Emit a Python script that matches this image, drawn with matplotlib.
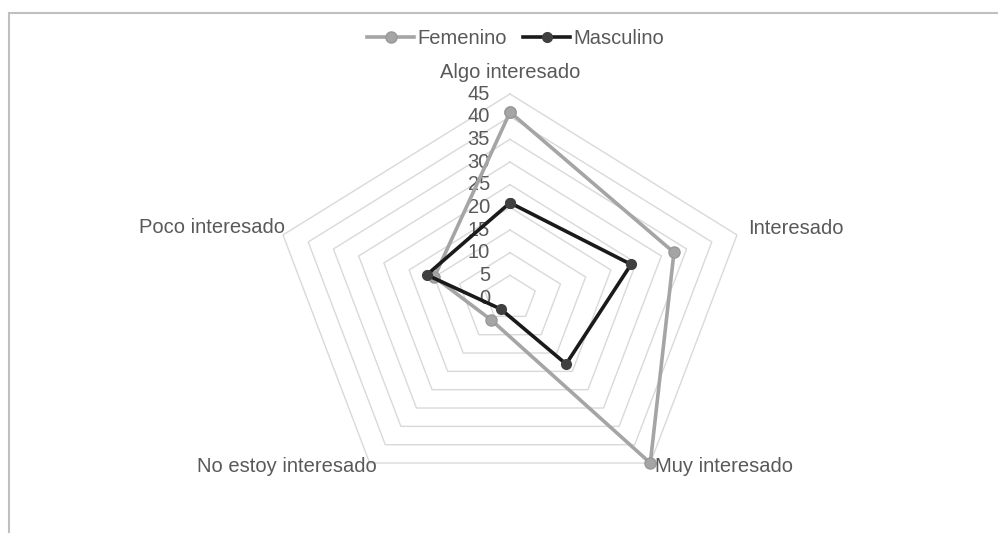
import numpy as np
import matplotlib
matplotlib.use("Agg")
import matplotlib.pyplot as plt
from matplotlib.patches import Rectangle

# ---- data ----
categories = ['Algo interesado', 'Interesado', 'Muy interesado',
              'No estoy interesado', 'Poco interesado']
femenino = [41, 32.5, 45, 6, 15]
masculino = [21, 24, 18, 3, 16.5]
radial_ticks = [0, 5, 10, 15, 20, 25, 30, 35, 40, 45]
series_names = ['Femenino', 'Masculino']

plt.rcParams['font.family'] = ['Liberation Sans', 'DejaVu Sans']
TXT = '#595959'
FS = 14.5

W, H = 998, 533
fig = plt.figure(figsize=(W / 100, H / 100), dpi=100)

# outer frame (partially cropped in the reference)
fig.patches.append(Rectangle((9 / W, -0.1), 1.2, 1.1 - 13 / H,
                             transform=fig.transFigure, fill=False,
                             edgecolor='#c0c0c0', linewidth=1.5))

cx, cy = 510, 298
rx, ry = 238.7, 204
ax = fig.add_axes([(cx - rx) / W, (H - cy - ry) / H, 2 * rx / W, 2 * ry / H],
                  projection='polar')
ax.set_aspect('auto')
ax.set_theta_offset(np.pi / 2)
ax.set_theta_direction(-1)
ax.set_ylim(0, max(radial_ticks))
ax.set_xticks([])
ax.set_yticks([])
ax.grid(False)
ax.spines['polar'].set_visible(False)
ax.patch.set_alpha(0)

n = len(categories)
angles = np.arange(n) * 2 * np.pi / n
ang_c = np.append(angles, angles[0])

# pentagon grid
for lv in radial_ticks[1:]:
    ax.plot(ang_c, [lv] * (n + 1), color='#d9d9d9', lw=1.0, zorder=1,
            clip_on=False)

# series
f_c = femenino + femenino[:1]
m_c = masculino + masculino[:1]
ax.plot(ang_c, f_c, color='#a5a5a5', lw=2.6, marker='o', markersize=8,
        markerfacecolor='#a5a5a5', markeredgecolor='#999999',
        solid_joinstyle='round', label=series_names[0], zorder=3,
        clip_on=False)
ax.plot(ang_c, m_c, color='#1a1a1a', lw=2.6, marker='o', markersize=7,
        markerfacecolor='#404040', markeredgecolor='#404040',
        solid_joinstyle='round', label=series_names[1], zorder=4,
        clip_on=False)

# radial tick labels
for t in radial_ticks:
    ax.annotate(str(t), xy=(0, t), xytext=(-20, 0), textcoords='offset pixels',
                ha='right', va='center', fontsize=FS, color=TXT, zorder=2,
                annotation_clip=False)

# category labels
rmax = max(radial_ticks)
offsets = [((0, 22), 'center'), ((11, 6), 'left'), ((5, -3), 'left'),
           ((7, -3), 'right'), ((2, 7), 'right')]
for a, lab, (off, ha) in zip(angles, categories, offsets):
    ax.annotate(lab, xy=(a, rmax), xytext=off, textcoords='offset pixels',
                ha=ha, va='center', fontsize=FS, color=TXT,
                annotation_clip=False)

# legend
fig.legend(loc='center', bbox_to_anchor=(516 / W, 1 - 39 / H), ncol=2,
           frameon=False, fontsize=FS, labelcolor=TXT, handlelength=2.3,
           handletextpad=0.2, columnspacing=0.8)

fig.savefig('out.png', dpi=100)
